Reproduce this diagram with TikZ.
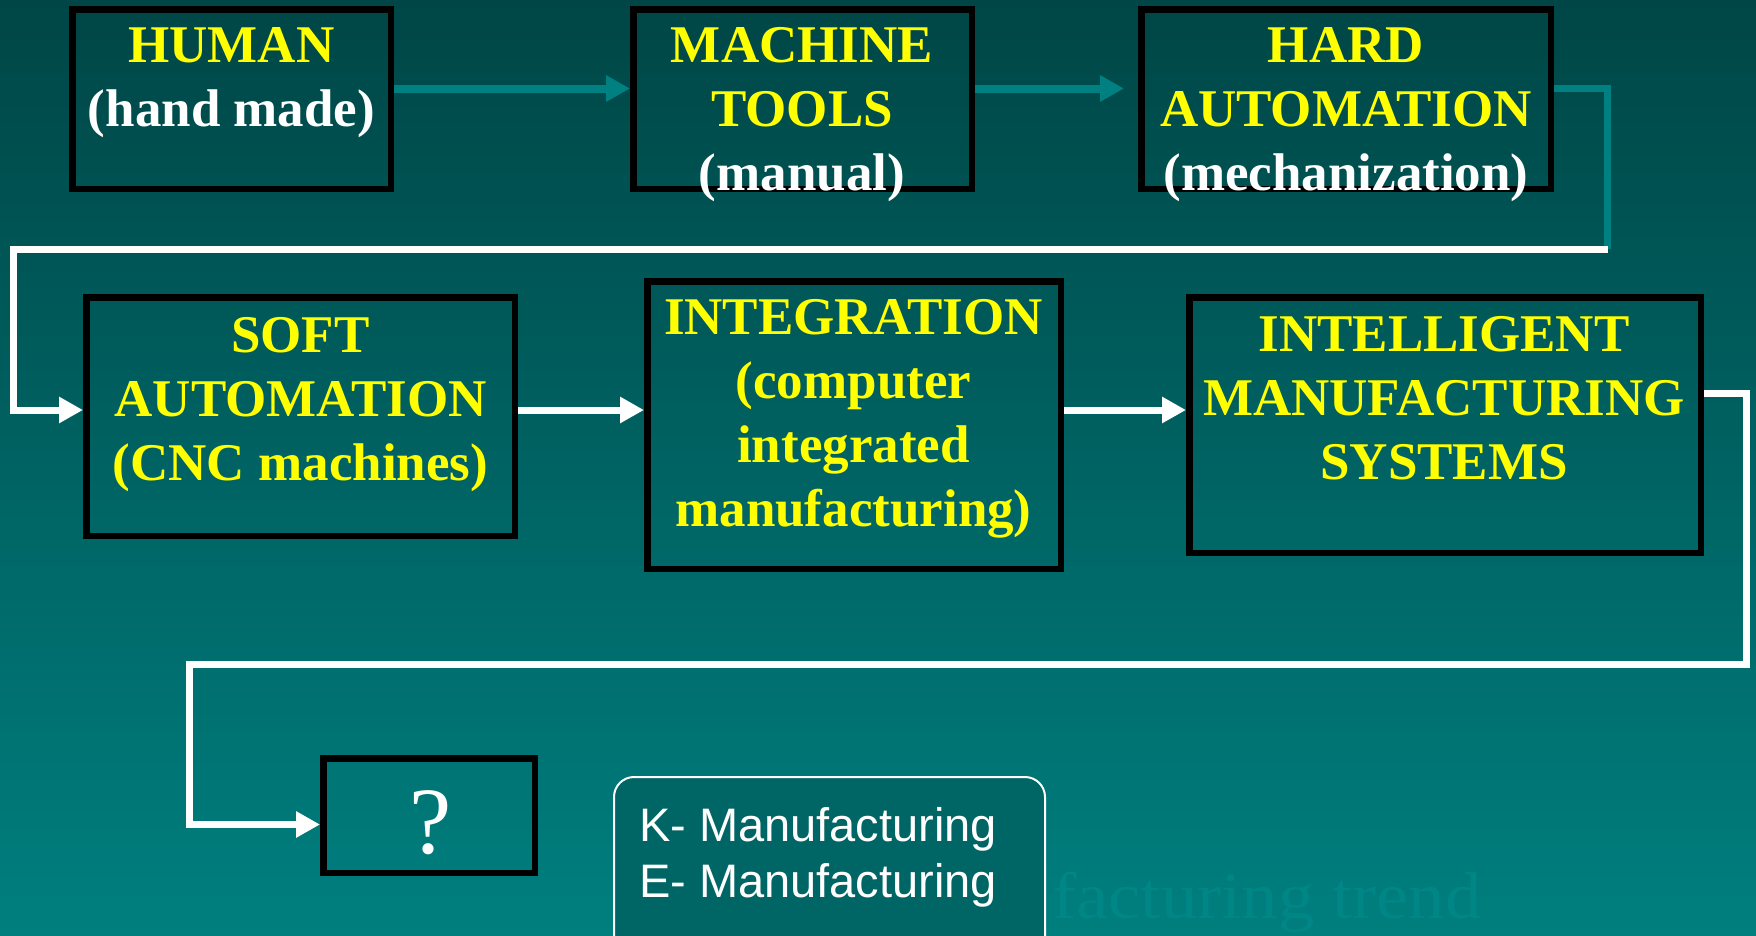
\documentclass[tikz,border=0pt]{standalone}
\usepackage{fontspec}
\setmainfont{Liberation Serif}
\newfontfamily\sansarial{Liberation Sans}
\newfontfamily\trendfont[FakeStretch=1.1]{Liberation Serif}
\usetikzlibrary{arrows.meta}
\definecolor{bgtop}{RGB}{0,70,70}
\definecolor{bgbot}{RGB}{0,127,127}
\definecolor{tealline}{RGB}{0,128,128}
\definecolor{ylw}{RGB}{255,255,0}
\definecolor{kfill}{RGB}{0,101,101}
\definecolor{faint}{RGB}{0,134,134}
\begin{document}
\begin{tikzpicture}[x=1pt,y=-1pt,
  stage/.style={draw=black,line width=6.5pt,inner sep=0pt},
  stagetext/.style={font=\fontsize{53}{64}\selectfont\bfseries,text=ylw,align=center,inner sep=0pt,anchor=north},
  flowteal/.style={draw=tealline,line width=8pt},
  flowwhite/.style={draw=white,line width=7pt},
  arrowtip/.style={-{Triangle[length=24pt,width=25pt]}}]
\useasboundingbox (0,0) rectangle (1756,935);
\clip (0,0) rectangle (1756,935);
\shade[top color=bgtop,bottom color=bgbot] (0,0) rectangle (1756,935);

% boxes
\node[stage,minimum width=318.5pt,minimum height=179.5pt] (human) at (231.5,99) {};
\node[stage,minimum width=338.5pt,minimum height=179.5pt] (machine) at (802.5,99) {};
\node[stage,minimum width=409.5pt,minimum height=179.5pt] (hard) at (1346,99) {};
\node[stage,minimum width=428.5pt,minimum height=238.5pt] (soft) at (300.5,416.5) {};
\node[stage,minimum width=413.5pt,minimum height=287.5pt] (integ) at (854,425) {};
\node[stage,minimum width=511.5pt,minimum height=255.5pt] (intel) at (1445,425) {};
\node[stage,minimum width=211.5pt,minimum height=114.5pt] (unknown) at (429,815.5) {};

% faint title fragment beside the K box
\node[font=\trendfont\fontsize{66}{80}\selectfont,text=faint,anchor=base west,inner sep=0pt] (trend) at (1052,918) {facturing trend};
\node[draw=white,line width=2pt,fill=kfill,rounded corners=20pt,minimum width=431pt,minimum height=182pt] (kbox) at (829.5,868) {};

% texts
\node[stagetext] (humant) at (231.5,27.5) {HUMAN\\\textcolor{white}{(hand made)}};
\node[stagetext] (machinet) at (802,27.5) {MACHINE\\TOOLS\\\textcolor{white}{(manual)}};
\node[stagetext] (hardt) at (1346,27.5) {HARD\\AUTOMATION\\\textcolor{white}{(mechanization)}};
\node[stagetext] (softt) at (300.5,317.5) {SOFT\\AUTOMATION\\(CNC machines)};
\node[stagetext] (integt) at (853.5,299.5) {INTEGRATION\\(computer\\integrated\\manufacturing)};
\node[stagetext] (intelt) at (1444,316.5) {INTELLIGENT\\MANUFACTURING\\SYSTEMS};
\node[font=\fontsize{95}{100}\selectfont,text=white,anchor=base,inner sep=0pt] (qmark) at (430.5,853) {?};
\node[font=\sansarial\fontsize{47}{56}\selectfont,text=white,align=left,anchor=north west,inner sep=0pt] (ktext) at (639,807) {K- Manufacturing\\E- Manufacturing};

% routing coordinates
\coordinate (r1) at (0,88.5);
\coordinate (r2) at (0,410);
\coordinate (ra) at (0,393.5);
\coordinate (rq) at (0,824.5);
\coordinate (t1) at (1607.5,249);
\coordinate (w1) at (13,249);
\coordinate (w2) at (1746,664.5);
\coordinate (w3) at (189.5,664.5);

% connectors
\draw[flowteal,arrowtip] (human.east |- r1) -- (machine.west |- r1);
\draw[flowteal,arrowtip,shorten >=14pt] (machine.east |- r1) -- (hard.west |- r1);
\draw[flowteal,line width=7pt] (hard.east |- r1) -| (t1);
\draw[flowwhite,arrowtip] (t1) -- (w1) |- (soft.west |- r2);
\draw[flowwhite,arrowtip] (soft.east |- r2) -- (integ.west |- r2);
\draw[flowwhite,arrowtip] (integ.east |- r2) -- (intel.west |- r2);
\draw[flowwhite,arrowtip] (intel.east |- ra) -| (w2) -- (w3) |- (unknown.west |- rq);
\end{tikzpicture}
\end{document}
